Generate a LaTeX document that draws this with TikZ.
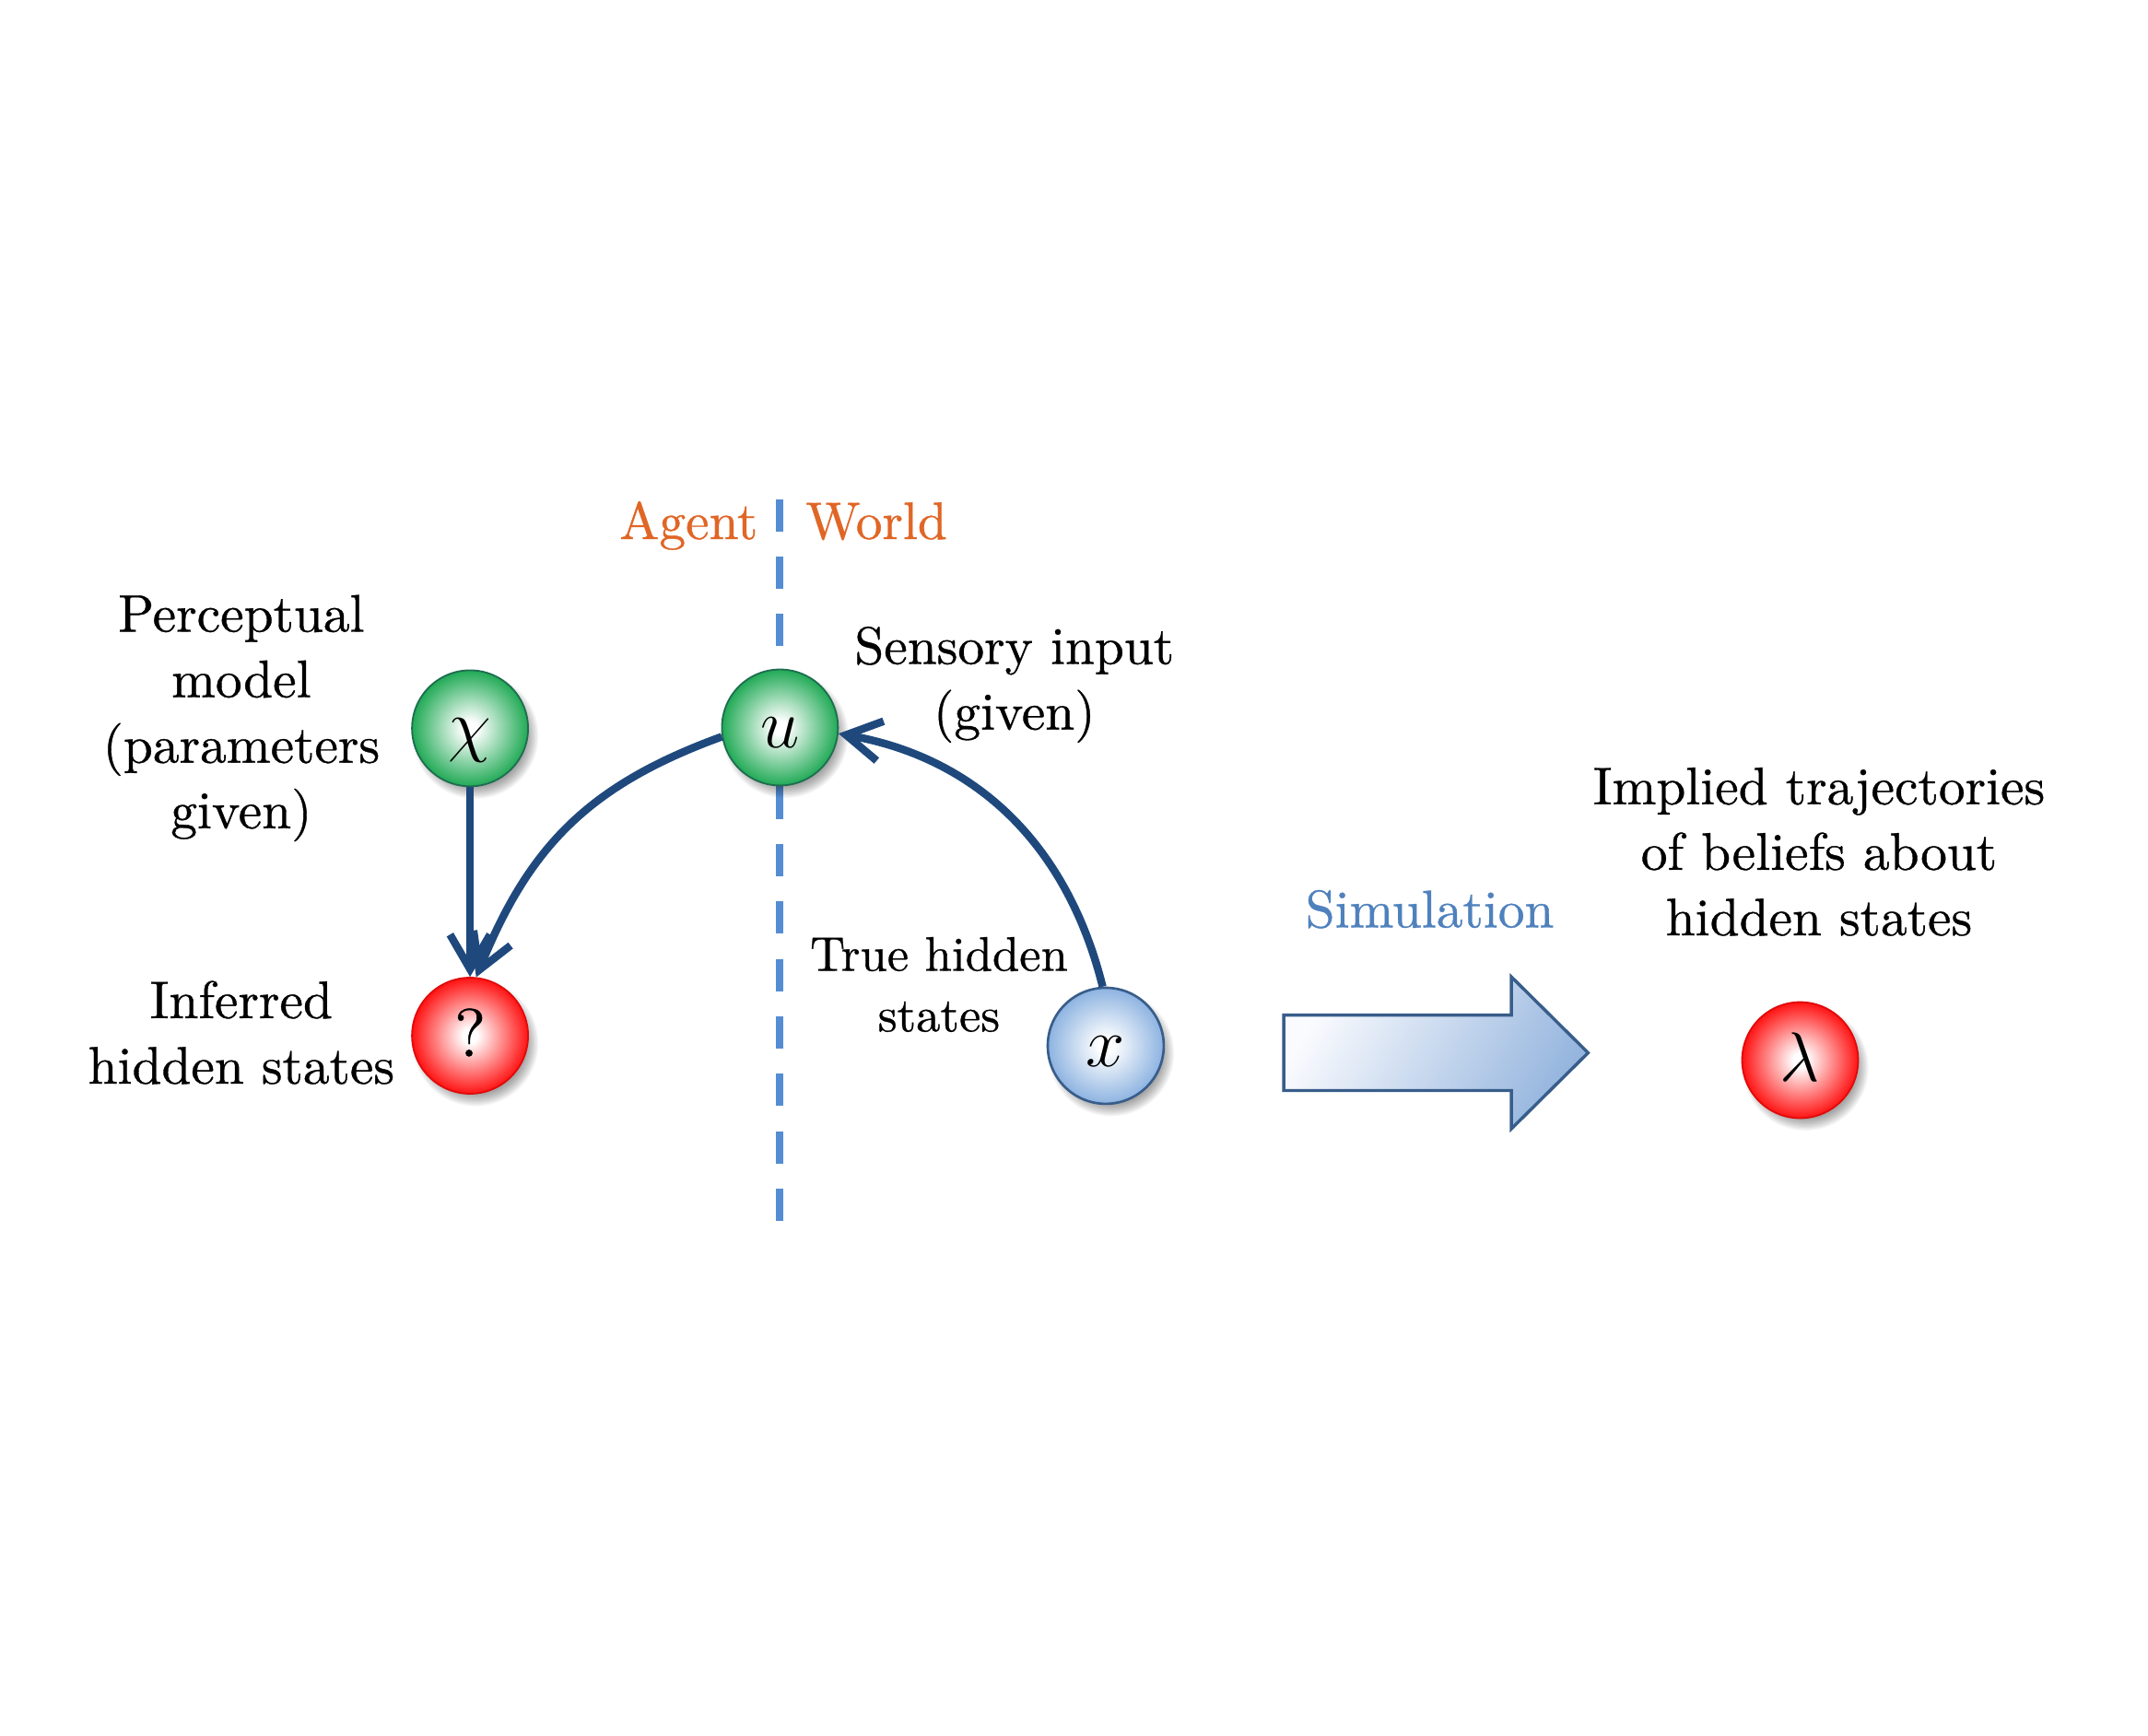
\documentclass[tikz,border=0pt]{standalone}
\usepackage{fontspec}
\setmainfont{Latin Modern Roman}[FakeBold=0.6]
\usetikzlibrary{arrows.meta,calc}
\definecolor{ballG}{RGB}{28,168,82}
\definecolor{ballGd}{RGB}{30,110,80}
\definecolor{ballR}{RGB}{255,14,14}
\definecolor{ballRd}{RGB}{225,10,10}
\definecolor{ballB}{RGB}{138,177,224}
\definecolor{ballBd}{RGB}{56,93,138}
\definecolor{connC}{RGB}{31,73,125}
\definecolor{sepC}{RGB}{84,141,212}
\definecolor{orangeT}{RGB}{224,102,38}
\definecolor{simT}{RGB}{79,129,189}
\definecolor{arrL}{RGB}{250,251,254}
\definecolor{arrR}{RGB}{149,181,222}
\definecolor{arrD}{RGB}{56,93,138}
\pgfdeclareradialshading{shG}{\pgfpointorigin}{color(0bp)=(white); color(3bp)=(white); color(25.5bp)=(ballG); color(50bp)=(ballG)}
\pgfdeclareradialshading{shR}{\pgfpointorigin}{color(0bp)=(white); color(3bp)=(white); color(25.5bp)=(ballR); color(50bp)=(ballR)}
\pgfdeclareradialshading{shB}{\pgfpointorigin}{color(0bp)=(white); color(3bp)=(white); color(25.5bp)=(ballB); color(50bp)=(ballB)}
\newcommand\ballshadow[1]{%
  \foreach \k in {0,...,9}{\fill[black,opacity=0.04] ($(#1)+(4,-5.5)$) circle ({(0.455-\k*0.009)*1cm});}}
\begin{document}
\begin{tikzpicture}[x=0.01cm,y=0.01cm,
  ball/.style={circle, minimum size=0.84cm, inner sep=0pt, text height=0.3cm, text depth=0pt,
    font=\fontsize{14}{14}\selectfont},
  gball/.style={ball, shade, shading=shG, draw=ballGd, line width=0.35pt},
  rball/.style={ball, shade, shading=shR, draw=ballRd, line width=0.35pt},
  bball/.style={ball, shade, shading=shB, draw=ballBd, line width=0.5pt},
  lbl/.style={align=center, inner sep=0pt, font=\fontsize{10.9}{13.5}\selectfont},
  link/.style={draw=connC, line width=1.6pt, -{Straight Barb[length=2.5mm,width=2.9mm]}},
]
\fill[white] (0,0) rectangle (1556,-1257);
\useasboundingbox (0,0) rectangle (1556,-1257);

% separator
\coordinate (dtop) at (565,-361.6);
\coordinate (dbot) at (565,-886);
\draw[sepC, line width=1.5pt, dash pattern=on 0.234cm off 0.182cm] (dtop) -- (dbot);

% ball centres
\coordinate (cchi) at (340.5,-527.6);
\coordinate (cq) at (340.5,-750.3);
\coordinate (cu) at (565,-527);
\coordinate (cx) at (801,-757.6);
\coordinate (cl) at (1304,-768);

\ballshadow{cchi}
\ballshadow{cq}
\ballshadow{cu}
\ballshadow{cx}
\ballshadow{cl}

\node[gball] (chi) at (cchi) {$\chi$};
\node[rball] (q) at (cq) {?};
\node[gball] (u) at (cu) {$u$};
\node[bball] (x) at (cx) {$x$};
\node[rball] (lam) at (cl) {$\lambda$};

% connectors
\draw[link] (chi) -- (q);
\draw[link] (u.189) to[out=200,in=68,looseness=1.05] (q.84);
\draw[link] (x.93) to[out=104,in=-10] (u.-6);

% labels
\node[lbl, text=orangeT, anchor=base east] (agent) at (549.6,-390.5) {Agent};
\node[lbl, text=orangeT, anchor=base west] (world) at (583,-390.5) {World};
\node[lbl] (percep) at (174.8,-520.3) {Perceptual\\model\\(parameters\\given)};
\node[lbl] (infer) at (174.8,-748) {Inferred\\hidden states};
\node[lbl] (sens) at (734.8,-496) {Sensory input\\(given)};
\node[lbl, font=\fontsize{10}{12.5}\selectfont] (truehid) at (680.2,-713.2) {True hidden\\states};
\node[lbl] (impl) at (1317.7,-617) {Implied trajectories\\of beliefs about\\hidden states};
\node[lbl, text=simT] (sim) at (1035.7,-658.7) {Simulation};

% simulation block arrow
\path[draw=arrD, line width=0.65pt, line join=miter, left color=arrL, right color=arrR, shading angle=60]
  (930,-735.4) -- (1094.8,-735.4) -- (1094.8,-707.6) -- (1150.4,-762.7)
  -- (1094.8,-817.8) -- (1094.8,-790) -- (930,-790) -- cycle;
\end{tikzpicture}
\end{document}
